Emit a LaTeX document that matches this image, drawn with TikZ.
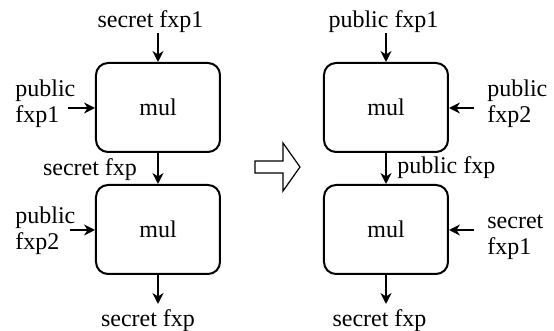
\documentclass[tikz,border=0pt]{standalone}
\usepackage{fontspec}
\setmainfont{Liberation Serif}
\usetikzlibrary{arrows.meta}
\usetikzlibrary{positioning}

\tikzset{
  mulbox/.style={draw, line width=1pt, rounded corners=6pt, minimum width=62pt,
    minimum height=44.5pt, inner sep=0pt},
  flow/.style={-{Stealth[length=5.5pt,width=5.5pt]}, line width=1pt},
  lbl/.style={inner sep=0pt, align=left, font=\fontsize{12}{13}\selectfont}
}

\begin{document}
\begin{tikzpicture}[x=0.5pt,y=-0.5pt,font=\fontsize{12}{13}\selectfont]
  \useasboundingbox (0,0) rectangle (554,331);

  %% before: secret input first
  \node[mulbox] (mulA) at (158,107.5) {mul};
  \node[mulbox] (mulB) at (158,229.5) {mul};

  \node[lbl] (secA) at (150.5,22) {secret fxp1};
  \node[lbl,anchor=west] (pubA) at (15,103.5) {public\\fxp1};
  \node[lbl] (midA) at (90,170) {secret fxp};
  \node[lbl,anchor=west] (pubB) at (15,230.5) {public\\fxp2};
  \node[lbl] (outA) at (148,321) {secret fxp};

  \coordinate (pubAend) at (68,108);
  \coordinate (pubBend) at (70,230);
  \coordinate (outAend) at (158,304);

  \draw[flow] (secA.south -| mulA) -- (mulA.north);
  \draw[flow] (pubAend) -- (pubAend -| mulA.west);
  \draw[flow] (mulA.south) -- (mulB.north);
  \draw[flow] (pubBend) -- (pubBend -| mulB.west);
  \draw[flow] (mulB.south) -- (outAend);

  %% rewrite arrow
  \draw[line width=0.6pt] (255,161) -- (283,161) -- (283,143) -- (300,167)
    -- (283,191) -- (283,173) -- (255,173) -- cycle;

  %% after: public inputs first
  \node[mulbox] (mulC) at (386,107.5) {mul};
  \node[mulbox] (mulD) at (386,229.5) {mul};

  \node[lbl] (pubC) at (383.5,22) {public fxp1};
  \node[lbl,anchor=west] (pubD) at (487,103.5) {public\\fxp2};
  \node[lbl,anchor=west] (midC) at (397,168) {public fxp};
  \node[lbl,anchor=west] (secD) at (487,237) {secret\\fxp1};
  \node[lbl] (outC) at (379.5,321) {secret fxp};

  \coordinate (pubDend) at (474,108);
  \coordinate (secDend) at (474,230);
  \coordinate (outCend) at (386,304);

  \draw[flow] (pubC.south -| mulC) -- (mulC.north);
  \draw[flow] (pubDend) -- (pubDend -| mulC.east);
  \draw[flow] (mulC.south) -- (mulD.north);
  \draw[flow] (secDend) -- (secDend -| mulD.east);
  \draw[flow] (mulD.south) -- (outCend);
\end{tikzpicture}
\end{document}
